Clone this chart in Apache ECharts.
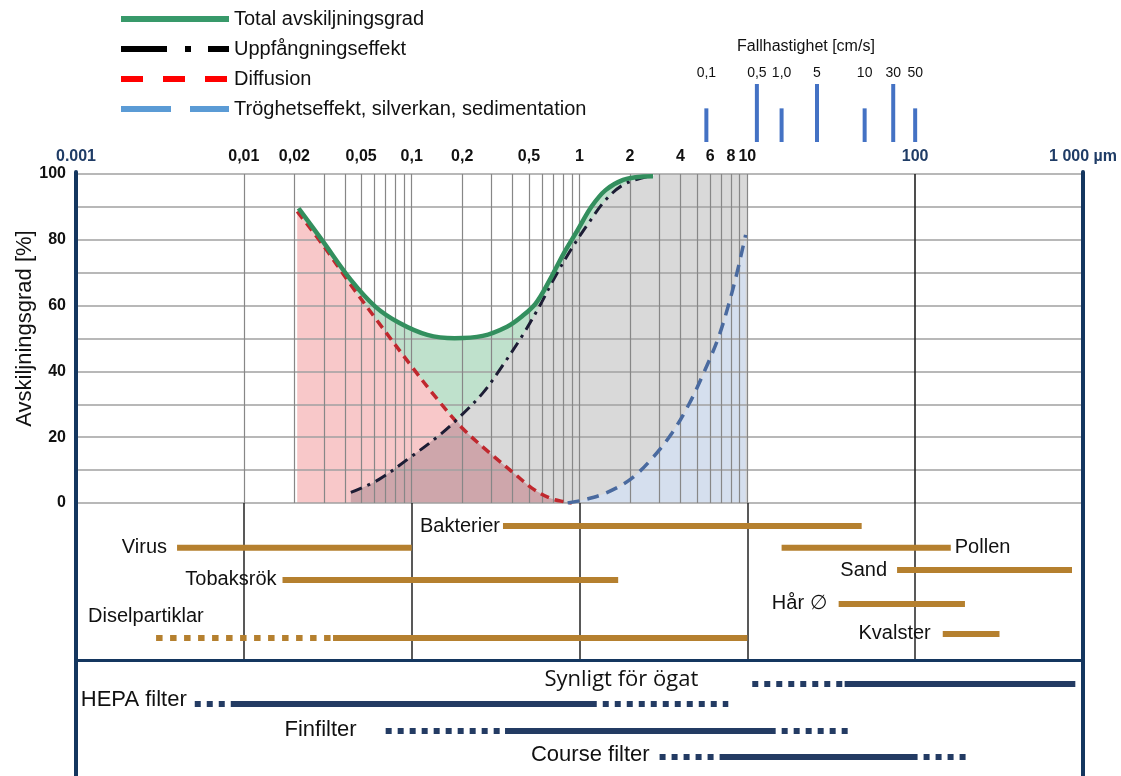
<!DOCTYPE html>
<html>
<head>
<meta charset="utf-8">
<script src="https://cdn.jsdelivr.net/npm/echarts@6/dist/echarts.min.js"></script>
<style>
html, body { margin: 0; padding: 0; background: #fff; }
#main { width: 1121px; height: 776px; }
</style>
</head>
<body>
<div id="main"></div>
<script>
// particle size in µm, separation efficiency in %
var totalX = [0.0212, 0.0296, 0.0434, 0.0607, 0.0847, 0.124, 0.18, 0.265, 0.37, 0.453, 0.549, 0.665, 0.806, 0.976, 1.18, 1.43, 1.82, 2.32, 2.74];
var totalY = [89.6, 79.5, 67.8, 59.7, 54.7, 51.1, 50.1, 50.8, 53.6, 56.7, 60.7, 67.8, 75.9, 83.0, 90.1, 95.1, 98.2, 99.2, 99.3];

var diffX = [0.0208, 0.0296, 0.0434, 0.0607, 0.1, 0.143, 0.2, 0.292, 0.428, 0.518, 0.665, 0.826, 0.9];
var diffY = [88.6, 78.4, 66.3, 56.2, 41.5, 31.4, 22.8, 15.2, 8.1, 4.6, 1.5, 0.3, 0];

var impX = [0.0434, 0.0636, 0.1, 0.143, 0.19, 0.265, 0.34, 0.453, 0.576, 0.698, 0.887, 1.13, 1.43, 1.82, 2.43, 2.74];
var impY = [3.2, 7.1, 14.2, 20.2, 25.8, 33.4, 41.0, 50.6, 59.7, 67.8, 76.9, 85.0, 92.1, 96.7, 99.0, 99.3];

var inertX = [0.85, 1.07, 1.43, 2.0, 2.67, 3.56, 4.53, 5.49, 6.65, 7.68, 8.66, 9.53, 9.77];
var inertY = [0, 1.0, 3.0, 7.1, 13.2, 21.3, 30.4, 39.5, 49.6, 59.7, 69.8, 79.0, 81.5];

// where diffusion and interception cross, and the fully grey size band
var crossing = [0.186, 24.8];
var greyBand = [2.8, 10];

// top axis
var topTicks = [0.001, 0.01, 0.02, 0.05, 0.1, 0.2, 0.5, 1, 2, 4, 6, 8, 10, 100, 1000];
var topText = ['0.001', '0,01', '0,02', '0,05', '0,1', '0,2', '0,5', '1', '2', '4', '6', '8', '10', '100', '1 000 µm'];

// settling velocity cm/s placed at particle size
var fallText = ['0,1', '0,5', '1,0', '5', '10', '30', '50'];
var fallSize = [5.7, 11.4, 16, 26, 50, 74, 100];

// particles (µm)
var partNames = ['Bakterier', 'Virus', 'Tobaksrök', 'Diselpartiklar', 'Pollen', 'Sand', 'Hår ∅', 'Kvalster'];
var partDotFrom = [0.35, 0.004, 0.017, 0.003, 16, 78, 35, 146];
var partFrom = [0.35, 0.004, 0.017, 0.034, 16, 78, 35, 146];
var partTo = [48, 0.1, 1.7, 10, 163, 860, 198, 318];

// filters (µm)
var filtNames = ['Synligt för ögat', 'HEPA filter', 'Finfilter', 'Course filter'];
var filtDotFrom = [10.7, 0.0051, 0.07, 3.0];
var filtFrom = [38, 0.0086, 0.36, 7.0];
var filtTo = [900, 1.24, 14, 100];
var filtDotTo = [900, 7.7, 43, 211];

// layout only
var fallLen = [0.58, 1, 0.58, 1, 0.58, 1, 0.58];
var partLane = [1.03, 2.0, 3.43, 6.02, 2.0, 2.99, 4.5, 5.84];
var partLabel = [['start', -3, 0, 'right'], ['start', -10, 0, 'right'], ['start', -6, 0, 'right'], ['start', -68, -22, 'left'],
                 ['end', 4, 0, 'left'], ['start', -10, 0, 'right'], ['start', -12, 0, 'right'], ['start', -12, 0, 'right']];
var filtLane = [1.2, 2.2, 3.55, 4.85];
var filtLabel = [[-54, -4], [-8, -4], [-29, -1], [-10, -2]];

var FONT = '"Liberation Sans", Arial, sans-serif';
var NAVY = '#14365f';
var BROWN = '#b5802f';
var BLUE_BAR = '#233b63';
var SM = 0.35;

function lg(v) { return Math.log10(v); }
function pairs(xs, ys) { return xs.map(function (x, i) { return [lg(x), ys[i]]; }); }
function findIdx(list, v) {
    for (var i = 0; i < list.length; i++) if (Math.abs(lg(list[i]) - v) < 1e-6) return i;
    return -1;
}

var minorGrid = [];
[0.01, 0.1, 1].forEach(function (dec) {
    for (var k = 1; k <= 9; k++) minorGrid.push(lg(dec * k));
});
minorGrid.push(1);

var overlapData = pairs(impX, impY).filter(function (p) { return p[0] < lg(crossing[0]); })
    .concat([[lg(crossing[0]), crossing[1]]])
    .concat(pairs(diffX, diffY).filter(function (p) { return p[0] > lg(crossing[0]); }));
var greyData = pairs(impX, impY).concat([[lg(greyBand[0]), 100], [lg(greyBand[1]), 100]]);

function xAx(grid, extra) {
    return Object.assign({
        type: 'value', gridIndex: grid, min: -3, max: 3,
        axisLine: { show: false, onZero: false }, axisTick: { show: false },
        axisLabel: { show: false }, splitLine: { show: false }
    }, extra || {});
}
function yAx(grid, extra) {
    return Object.assign({
        type: 'value', gridIndex: grid,
        axisLine: { show: false, onZero: false }, axisTick: { show: false },
        axisLabel: { show: false }, splitLine: { show: false }
    }, extra || {});
}

function fill(name, data, color) {
    return {
        name: name, type: 'line', xAxisIndex: 0, yAxisIndex: 0, data: data, smooth: SM,
        symbol: 'none', silent: true, z: 1, lineStyle: { width: 0 }, areaStyle: { color: color, opacity: 1 }
    };
}
function curve(name, data, color, width, dash) {
    return {
        name: name, type: 'line', xAxisIndex: 0, yAxisIndex: 0, data: data, smooth: SM,
        symbol: 'none', silent: true, z: 5, itemStyle: { color: color },
        lineStyle: { color: color, width: width, type: dash, cap: 'butt' }
    };
}

var myChart = echarts.init(document.getElementById('main'));
var option = {
    animation: false,
    backgroundColor: '#fff',
    title: {
        text: 'Fallhastighet [cm/s]', left: 737, top: 39, padding: 0,
        textStyle: { fontSize: 16, fontWeight: 'normal', color: '#111', fontFamily: FONT }
    },
    legend: {
        orient: 'vertical', left: 118, top: 9, padding: 0,
        itemWidth: 108, itemHeight: 20, itemGap: 10,
        textStyle: { fontSize: 20, color: '#111', fontFamily: FONT },
        selectedMode: false,
        data: [
            { name: 'Total avskiljningsgrad', itemStyle: { opacity: 0 }, lineStyle: { color: '#38996a', width: 6, type: 'solid' } },
            { name: 'Uppfångningseffekt', itemStyle: { opacity: 0 }, lineStyle: { color: '#000', width: 6, type: [46, 18, 6, 17] } },
            { name: 'Diffusion', itemStyle: { opacity: 0 }, lineStyle: { color: '#f00', width: 6, type: [22, 20] } },
            { name: 'Tröghetseffekt, silverkan, sedimentation', itemStyle: { opacity: 0 }, lineStyle: { color: '#5b9bd5', width: 6, type: [50, 19] } }
        ]
    },
    grid: [
        { left: 76, right: 38, top: 174, height: 329, outerBoundsMode: 'none' },
        { left: 76, right: 38, top: 503, height: 157, outerBoundsMode: 'none' },
        { left: 76, right: 38, top: 660, height: 140, outerBoundsMode: 'none' },
        { left: 76, right: 38, top: 172, height: 640, outerBoundsMode: 'none' },
        { left: 76, right: 38, top: 84, height: 58, outerBoundsMode: 'none' }
    ],
    xAxis: [
        xAx(0, {
            position: 'top', z: 3,
            axisLabel: {
                show: true, margin: 9, hideOverlap: false,
                customValues: topTicks.map(lg),
                formatter: function (v) {
                    var i = findIdx(topTicks, v);
                    if (i < 0) return '';
                    return (i === 0 || i >= 13 ? '{n|' : '{b|') + topText[i] + '}';
                },
                rich: {
                    n: { color: '#1f3c66', fontWeight: 'bold', fontSize: 16, fontFamily: FONT },
                    b: { color: '#111', fontWeight: 'bold', fontSize: 16, fontFamily: FONT }
                }
            }
        }),
        xAx(0, {
            z: 3,
            axisTick: { show: false, customValues: minorGrid },
            splitLine: { show: true, lineStyle: { color: '#878787', width: 1.2 } }
        }),
        xAx(0, {
            z: 3,
            axisTick: { show: false, customValues: [2] },
            splitLine: { show: true, lineStyle: { color: '#222', width: 1.6 } }
        }),
        xAx(1, {
            z: 3,
            axisLine: { show: true, onZero: false, lineStyle: { color: NAVY, width: 3 } },
            axisTick: { show: false, customValues: [-2, -1, 0, 1, 2] },
            splitLine: { show: true, lineStyle: { color: '#222', width: 1.5 } }
        }),
        xAx(2),
        xAx(3),
        xAx(4, {
            position: 'top',
            axisLabel: {
                show: true, margin: 4, hideOverlap: false, fontSize: 14, color: '#111', fontFamily: FONT,
                customValues: fallSize.map(lg),
                formatter: function (v) {
                    var i = findIdx(fallSize, v);
                    return i < 0 ? '' : fallText[i];
                }
            }
        })
    ],
    yAxis: [
        yAx(0, {
            min: 0, max: 100, interval: 10, z: 3,
            axisLabel: {
                show: true, margin: 10, fontSize: 16, fontWeight: 'bold', color: '#111', fontFamily: FONT,
                formatter: function (v) { return v % 20 === 0 ? String(v) : ''; }
            },
            splitLine: { show: true, lineStyle: { color: '#a0a0a0', width: 1.5 } },
            name: 'Avskiljningsgrad [%]', nameLocation: 'middle', nameGap: 40, nameRotate: 90,
            nameMoveOverlap: false,
            nameTextStyle: { fontSize: 22, color: '#111', fontFamily: FONT, padding: [0, 0, 0, 20] }
        }),
        yAx(1, { min: 0, max: 7, inverse: true }),
        yAx(2, { min: 0, max: 7, inverse: true }),
        yAx(3, { min: 0, max: 1, position: 'left', z: 6,
            axisLine: { show: true, onZero: false, lineStyle: { color: NAVY, width: 4 } } }),
        yAx(3, { min: 0, max: 1, position: 'right', z: 6,
            axisLine: { show: true, onZero: false, lineStyle: { color: NAVY, width: 4 } } }),
        yAx(4, { min: 0, max: 1 })
    ],
    series: [
        fill('fill-total', pairs(totalX, totalY), '#bfe1cc'),
        fill('fill-diff', pairs(diffX, diffY), '#f8c8c9'),
        fill('fill-grey', greyData, '#d9d9d9'),
        fill('fill-overlap', overlapData, '#cea6ab'),
        fill('fill-inert', pairs(inertX, inertY), '#d5dfee'),
        curve('Diffusion', pairs(diffX, diffY), '#c0282e', 3.5, [9, 6]),
        curve('Uppfångningseffekt', pairs(impX, impY), '#1d1d35', 3, [12, 6, 3, 6]),
        curve('Tröghetseffekt, silverkan, sedimentation', pairs(inertX, inertY), '#4a6a9f', 3.5, [12, 8]),
        curve('Total avskiljningsgrad', pairs(totalX, totalY), '#338f5e', 4.5, 'solid'),
        {
            type: 'custom', name: 'fall', xAxisIndex: 6, yAxisIndex: 5, silent: true,
            data: fallSize.map(function (s, i) { return [lg(s), fallLen[i]]; }),
            encode: { x: 0, y: 1 },
            renderItem: function (params, api) {
                var top = api.coord([api.value(0), api.value(1)]);
                var base = api.coord([api.value(0), 0]);
                return { type: 'rect', shape: { x: top[0] - 2, y: top[1], width: 4, height: base[1] - top[1] },
                    style: { fill: '#4472c4' } };
            }
        },
        {
            type: 'custom', name: 'particles', xAxisIndex: 3, yAxisIndex: 1, silent: true, z: 5,
            data: partNames.map(function (n, i) {
                return [lg(partDotFrom[i]), lg(partFrom[i]), lg(partTo[i]), partLane[i], i];
            }),
            encode: { x: [0, 1, 2], y: 3 },
            renderItem: function (params, api) {
                var i = api.value(4), y = api.value(3);
                var a = api.coord([api.value(0), y]), b = api.coord([api.value(1), y]), c = api.coord([api.value(2), y]);
                var kids = [];
                if (b[0] - a[0] > 1) {
                    kids.push({ type: 'line', shape: { x1: a[0], y1: a[1], x2: b[0], y2: b[1] },
                        style: { stroke: BROWN, lineWidth: 6, lineDash: [6.5, 7.5] } });
                }
                kids.push({ type: 'line', shape: { x1: b[0], y1: b[1], x2: c[0], y2: c[1] },
                    style: { stroke: BROWN, lineWidth: 6 } });
                var L = partLabel[i];
                var p = L[0] === 'end' ? c : a;
                kids.push({ type: 'text', x: p[0] + L[1], y: p[1] + L[2],
                    style: { text: partNames[i], fontSize: 20, fontFamily: FONT, fill: '#111',
                        align: L[3], verticalAlign: 'middle' } });
                return { type: 'group', children: kids };
            }
        },
        {
            type: 'custom', name: 'filters', xAxisIndex: 4, yAxisIndex: 2, silent: true, z: 5,
            data: filtNames.map(function (n, i) {
                return [lg(filtDotFrom[i]), lg(filtFrom[i]), lg(filtTo[i]), lg(filtDotTo[i]), filtLane[i], i];
            }),
            encode: { x: [0, 1, 2, 3], y: 4 },
            renderItem: function (params, api) {
                var i = api.value(5), y = api.value(4);
                var a = api.coord([api.value(0), y]), b = api.coord([api.value(1), y]);
                var c = api.coord([api.value(2), y]), d = api.coord([api.value(3), y]);
                var kids = [
                    { type: 'line', shape: { x1: a[0], y1: a[1], x2: d[0], y2: d[1] },
                        style: { stroke: BLUE_BAR, lineWidth: 6, lineDash: [6, 6] } },
                    { type: 'line', shape: { x1: b[0], y1: b[1], x2: c[0], y2: c[1] },
                        style: { stroke: BLUE_BAR, lineWidth: 6 } }
                ];
                var L = filtLabel[i];
                kids.push({ type: 'text', x: a[0] + L[0], y: a[1] + L[1],
                    style: { text: filtNames[i], fontSize: 22, fill: '#111', align: 'right', verticalAlign: 'middle',
                        fontFamily: i === 0 ? '"Open Sans", sans-serif' : FONT } });
                return { type: 'group', children: kids };
            }
        }
    ]
};
myChart.setOption(option);
</script>
</body>
</html>
